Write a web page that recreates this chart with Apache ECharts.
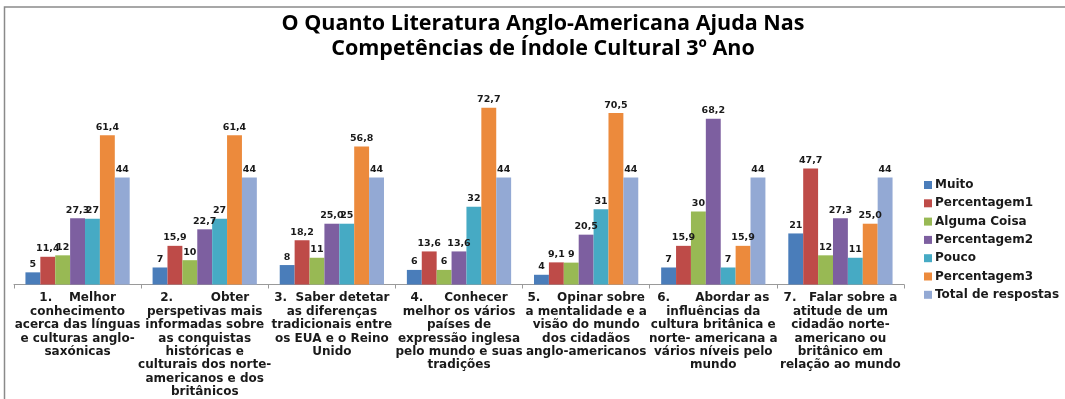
<!DOCTYPE html>
<html>
<head>
<meta charset="utf-8">
<script src="https://cdn.jsdelivr.net/npm/echarts@6/dist/echarts.min.js"></script>
<style>
html,body{margin:0;padding:0;background:#fff;}
#chart{width:1065px;height:399px;}
</style>
</head>
<body>
<div id="chart"></div>
<script>
const titleText = "O Quanto Literatura Anglo-Americana Ajuda Nas\nCompetências de Índole Cultural 3º Ano";
const categories = [
  "1.    Melhor\nconhecimento\nacerca das línguas\ne culturas anglo-\nsaxónicas",
  "2.         Obter\nperspetivas mais\ninformadas sobre\nas conquistas\nhistóricas e\nculturais dos norte-\namericanos e dos\nbritânicos",
  "3.  Saber detetar\nas diferenças\ntradicionais entre\nos EUA e o Reino\nUnido",
  "4.     Conhecer\nmelhor os vários\npaíses de\nexpressão inglesa\npelo mundo e suas\ntradições",
  "5.    Opinar sobre\na mentalidade e a\nvisão do mundo\ndos cidadãos\nanglo-americanos",
  "6.      Abordar as\ninfluências da\ncultura britânica e\nnorte- americana a\nvários níveis pelo\nmundo",
  "7.   Falar sobre a\natitude de um\ncidadão norte-\namericano ou\nbritânico em\nrelação ao mundo"
];
const seriesNames = ["Muito","Percentagem1","Alguma Coisa","Percentagem2","Pouco","Percentagem3","Total de respostas"];
const muito        = [5, 7, 8, 6, 4, 7, 21];
const percentagem1 = [11.4, 15.9, 18.2, 13.6, 9.1, 15.9, 47.7];
const algumaCoisa  = [12, 10, 11, 6, 9, 30, 12];
const percentagem2 = [27.3, 22.7, 25.0, 13.6, 20.5, 68.2, 27.3];
const pouco        = [27, 27, 25, 32, 31, 7, 11];
const percentagem3 = [61.4, 61.4, 56.8, 72.7, 70.5, 15.9, 25.0];
const totalRespostas = [44, 44, 44, 44, 44, 44, 44];
const decimals = [0, 1, 0, 1, 0, 1, 0];
const colors = ["#4A7DBA","#BE4B48","#98B954","#7D5FA0","#46AAC4","#EC8A3C","#93A9D4"];

const allData = [muito, percentagem1, algumaCoisa, percentagem2, pouco, percentagem3, totalRespostas];

const chart = echarts.init(document.getElementById('chart'), null, {renderer:'canvas'});
const series = allData.map((d, i) => ({
  name: seriesNames[i],
  type: 'bar',
  data: d,
  barGap: '0%',
  barCategoryGap: '18%',
  itemStyle: { color: colors[i] },
  label: {
    show: true,
    position: 'top',
    distance: 3,
    fontFamily: 'DejaVu Sans',
    fontWeight: 'bold',
    fontSize: 9.5,
    color: '#1a1a1a',
    formatter: p => p.value.toFixed(decimals[i]).replace('.', ',')
  }
}));

chart.setOption({
  animation: false,
  backgroundColor: '#ffffff',
  title: {
    text: titleText,
    left: 538,
    textAlign: 'center',
    top: 6,
    textStyle: { fontFamily: 'Open Sans', fontWeight: 'bold', fontSize: 21.5, lineHeight: 25, color: '#000' }
  },
  legend: {
    orient: 'vertical',
    left: 924,
    top: 179,
    padding: 0,
    itemWidth: 8,
    itemHeight: 8,
    itemGap: 6.3,
    icon: 'rect',
    textStyle: { fontFamily: 'DejaVu Sans', fontWeight: 'bold', fontSize: 12, lineHeight: 12, color: '#1a1a1a', padding: [0,0,0,-2] },
    data: seriesNames
  },
  grid: { left: 14, right: 161, top: 90, bottom: 114.5, containLabel: false },
  xAxis: {
    type: 'category',
    data: categories,
    axisLine: { lineStyle: { color: '#9a9a9a', width: 1 } },
    axisTick: { show: true, length: 4, lineStyle: { color: '#9a9a9a' } },
    axisLabel: {
      interval: 0,
      margin: 7,
      fontFamily: 'DejaVu Sans',
      fontWeight: 'bold',
      fontSize: 12,
      lineHeight: 13.4,
      color: '#1a1a1a',
      align: 'center'
    }
  },
  yAxis: { type: 'value', min: 0, max: 80, show: false, splitLine: { show: false } },
  graphic: [{
    type: 'rect',
    shape: { x: 4.5, y: 7, width: 1200, height: 600 },
    style: { fill: 'none', stroke: '#8a8a8a', lineWidth: 1.5 },
    silent: true, z: 100
  }],
  series: series
});
</script>
</body>
</html>
